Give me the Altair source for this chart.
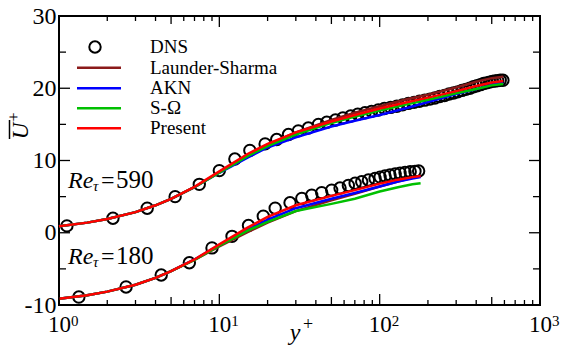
import altair as alt
import pandas as pd

# ---------------- data ----------------
# Re_tau = 590 (plotted as is)
dns590_y = [1.12, 2.17, 3.55, 5.3, 7.5, 10.0, 12.5, 15.5, 19.3, 22.8,
            27.0, 31.1, 35.9, 41.5, 46.8, 53, 59, 66, 73, 81,
            89, 98, 107, 117, 128, 139, 151, 164, 177, 191,
            206, 221, 237, 254, 271, 289, 307, 326, 345, 365,
            385, 405, 425, 445, 465, 485, 505, 525, 545, 565, 587]
dns590_u = [0.95, 2.0, 3.4, 5.0, 6.7, 8.6, 10.2, 11.4, 12.3, 12.9,
            13.6, 14.1, 14.5, 15.0, 15.3, 15.6, 15.9, 16.15, 16.4, 16.6,
            16.8, 17.0, 17.2, 17.35, 17.5, 17.7, 17.9, 18.05, 18.2, 18.35,
            18.5, 18.65, 18.85, 19.0, 19.2, 19.35, 19.5, 19.7, 19.85, 20.0,
            20.2, 20.35, 20.5, 20.65, 20.75, 20.85, 20.95, 21.0, 21.05, 21.1, 21.1]

yp590 = [1, 1.5, 2, 3, 4, 5, 7, 10, 15, 20, 30, 50, 70, 100, 150, 200, 300, 400, 500, 590]
ls590 = [0.9, 1.4, 1.9, 2.85, 3.8, 4.7, 6.3, 8.4, 10.7, 12.2, 13.9, 15.6, 16.6, 17.5, 18.5, 19.1, 20.1, 20.9, 21.4, 21.6]
akn590 = [0.9, 1.4, 1.9, 2.85, 3.8, 4.7, 6.3, 8.3, 10.4, 11.8, 13.2, 14.7, 15.5, 16.3, 17.3, 18.1, 19.2, 19.9, 20.5, 20.8]
som590 = [0.9, 1.4, 1.9, 2.85, 3.8, 4.7, 6.3, 8.3, 10.6, 12.0, 13.6, 15.2, 16.1, 16.9, 17.8, 18.4, 19.3, 19.9, 20.4, 20.6]
pre590 = [0.9, 1.4, 1.9, 2.85, 3.8, 4.7, 6.35, 8.5, 10.9, 12.3, 13.9, 15.4, 16.3, 17.2, 18.1, 18.7, 19.6, 20.3, 20.8, 21.0]

# Re_tau = 180 (shifted down by 10 in the figure)
dns180_y = [1.33, 2.62, 4.34, 6.5, 9.0, 12.0, 15.2, 18.8, 22.3, 27.6,
            32.7, 37.7, 43.5, 50.2, 56.6, 63.8, 70.3, 77.3, 85.1, 93.6,
            100.6, 108, 116, 125, 134, 144, 155, 166, 175]
dns180_u = [-8.9, -7.5, -5.85, -4.15, -2.1, -0.5, 1.0, 2.3, 3.4, 4.15,
            4.75, 5.2, 5.55, 5.9, 6.2, 6.55, 6.85, 7.05, 7.3, 7.5,
            7.7, 7.85, 8.0, 8.15, 8.25, 8.35, 8.45, 8.5, 8.55]

yp180 = [1, 1.5, 2, 3, 4, 5, 7, 10, 15, 20, 30, 50, 70, 100, 130, 160, 180]
ls180 = [-9.15, -8.65, -8.15, -7.2, -6.25, -5.3, -3.75, -1.9, 0.1, 1.4, 3.0, 4.5, 5.4, 6.4, 7.1, 7.6, 7.8]
akn180 = [-9.15, -8.65, -8.15, -7.2, -6.25, -5.3, -3.7, -1.7, 0.4, 1.8, 3.4, 4.7, 5.5, 6.4, 7.1, 7.5, 7.7]
som180 = [-9.15, -8.65, -8.15, -7.2, -6.25, -5.3, -3.75, -1.8, 0.3, 1.5, 3.0, 4.0, 4.7, 5.7, 6.3, 6.7, 6.85]
pre180 = [-9.15, -8.65, -8.15, -7.2, -6.25, -5.3, -3.7, -1.6, 0.7, 2.2, 3.8, 5.1, 5.9, 6.8, 7.35, 7.7, 7.85]

models = ["Launder-Sharma", "AKN", "S-\u03a9", "Present"]
colors = ["#8b1a1a", "#0000ff", "#00c000", "#ff0000"]

x_major = [1, 10, 100, 1000]
x_sup = ["0", "1", "2", "3"]
x_minor = [2, 3, 4, 6, 7, 8, 9, 20, 30, 40, 60, 70, 80, 90, 200, 300, 400, 600, 700, 800, 900]
x_mid = [5, 50, 500]
y_major = [-10, 0, 10, 20, 30]
y_minor = [-5, 5, 15, 25]

# ---------------- layout ----------------
W, H = 481, 289
SERIF = "'Liberation Serif', 'DejaVu Serif', Times, serif"

xscale = alt.Scale(type="log", domain=[1, 1000])
yscale = alt.Scale(domain=[-10, 30])

xaxis = alt.Axis(values=x_major, labelExpr="'10'", ticks=False, domain=False, grid=False,
                 labelFont=SERIF, labelFontSize=23, labelColor="black", labelPadding=8,
                 labelFlush=False, labelOverlap=False, title=None)
yaxis = alt.Axis(values=y_major, ticks=False, domain=False, grid=False,
                 labelExpr="datum.value < 0 ? '-' + abs(datum.value) : '' + datum.value",
                 labelFont=SERIF, labelFontSize=24, labelColor="black", labelPadding=3,
                 labelFlush=False, labelOverlap=False, title=None)

def X(f="yp"):
    return alt.X(f"{f}:Q", scale=xscale, axis=xaxis)

def Y(f="U"):
    return alt.Y(f"{f}:Q", scale=yscale, axis=yaxis)

dns = pd.DataFrame({"yp": dns590_y + dns180_y, "U": dns590_u + dns180_u})
dns_layer = alt.Chart(dns).mark_point(shape="circle", filled=False, size=130,
                                       strokeWidth=2, color="black", opacity=1).encode(x=X(), y=Y())

line_layers = []
series590 = [ls590, akn590, som590, pre590]
series180 = [ls180, akn180, som180, pre180]
for m, c, s590, s180 in zip(models, colors, series590, series180):
    d = pd.DataFrame({"yp": yp590 + yp180, "U": s590 + s180,
                      "case": ["590"] * len(yp590) + ["180"] * len(yp180)})
    line_layers.append(alt.Chart(d).mark_line(color=c, strokeWidth=2.5).encode(
        x=X(), y=Y(), detail="case:N", order="yp:Q"))

# tick marks pointing inward on all four sides
def hticks(vals, length):
    d = pd.DataFrame({"U": vals})
    left = alt.Chart(d).mark_rule(color="black", strokeWidth=1.3).encode(
        y=Y(), x=alt.value(0), x2=alt.value(length))
    right = alt.Chart(d).mark_rule(color="black", strokeWidth=1.3).encode(
        y=Y(), x=alt.value(W - length), x2=alt.value(W))
    return [left, right]

def vticks(vals, length):
    d = pd.DataFrame({"yp": vals})
    bottom = alt.Chart(d).mark_rule(color="black", strokeWidth=1.3).encode(
        x=X(), y=alt.value(H), y2=alt.value(H - length))
    top = alt.Chart(d).mark_rule(color="black", strokeWidth=1.3).encode(
        x=X(), y=alt.value(0), y2=alt.value(length))
    return [bottom, top]

tick_layers = (hticks(y_major, 11) + hticks(y_minor, 7) +
               vticks(x_major, 11) + vticks(x_mid, 8) + vticks(x_minor, 5))

# superscripts of the x tick labels
sup_layer = alt.Chart(pd.DataFrame({"yp": x_major, "s": x_sup})).mark_text(
    font=SERIF, fontSize=15, align="left", baseline="alphabetic", dx=12, color="black"
).encode(x=X(), y=alt.value(H + 21), text="s:N")

one = pd.DataFrame({"k": [0]})

def txt(t, x, y, size, font=SERIF, style="normal", align="left", baseline="alphabetic", angle=0):
    kw = dict(font=font, fontSize=size, fontStyle=style, align=align, baseline=baseline,
              color="black", text=t)
    if angle:
        kw["angle"] = angle
    return alt.Chart(one).mark_text(**kw).encode(x=alt.value(x), y=alt.value(y))

# axis titles
title_layers = [
    txt("y", 236, 324, 24, style="italic", align="center"),
    txt("+", 249, 314, 18, align="center"),
    txt("U", -38, 115, 23, style="italic", align="center", baseline="middle", angle=270),
    txt("+", -45, 101, 16, align="center", baseline="middle", angle=270),
    alt.Chart(one).mark_rule(color="black", strokeWidth=1.5).encode(
        x=alt.value(-49.5), y=alt.value(104), y2=alt.value(123)),
]

# Re_tau annotations
re_layers = []
for num, base in [("590", 172), ("180", 248)]:
    re_layers += [
        txt("Re", 9, base, 24, style="italic"),
        txt("\u03c4", 34, base + 3, 15, style="italic"),
        txt("=", 42, base, 24),
        txt(num, 57, base, 25),
    ]

# legend
leg_y = [31, 51.7, 72.3, 92.3, 112.3]
legend_layers = [
    alt.Chart(one).mark_point(shape="circle", filled=False, size=130, strokeWidth=2,
                              color="black", opacity=1).encode(x=alt.value(36), y=alt.value(leg_y[0])),
    txt("DNS", 91, leg_y[0], 19, baseline="middle"),
]
for m, c, yy in zip(models, colors, leg_y[1:]):
    legend_layers.append(alt.Chart(one).mark_rule(color=c, strokeWidth=2.5).encode(
        x=alt.value(18), x2=alt.value(62), y=alt.value(yy)))
    legend_layers.append(txt(m, 91, yy, 19, baseline="middle"))

chart = alt.layer(dns_layer, *line_layers, *tick_layers, sup_layer,
                  *title_layers, *re_layers, *legend_layers).properties(
    width=W, height=H,
    autosize=alt.AutoSizeParams(type="none"),
    padding={"left": 59, "top": 16, "right": 25, "bottom": 46},
    background="white",
).configure_view(stroke="black", strokeWidth=2)

chart.save("out.html", embed_options={"renderer": "svg", "actions": False})
